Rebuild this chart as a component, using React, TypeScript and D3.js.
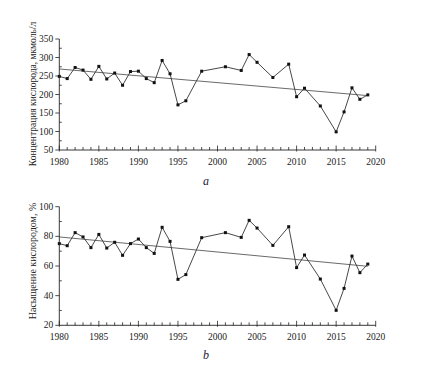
import React from "react";
import * as d3 from "d3";

const yearsA = [1980,1981,1982,1983,1984,1985,1986,1987,1988,1989,1990,1991,1992,1993,1994,1995,1996,1998,2001,2003,2004,2005,2007,2009,2010,2011,2013,2015,2016,2017,2018,2019];
const concA = [249,243,273,266,241,276,242,258,225,262,263,243,232,292,256,172,183,263,275,265,308,287,246,282,194,217,169,99,153,218,187,199];
const satB = [75.1,73.7,82.5,79.6,72.4,81.3,72.1,76.0,67.2,75.1,78.2,72.4,68.5,86.1,76.6,51.0,54.2,79.1,82.5,79.3,90.8,85.6,73.9,86.5,58.9,67.4,51.2,30.1,44.9,66.7,55.5,61.3];
const trendYears = [1980, 2019];
const trendA = [269, 197];
const trendB = [79.6, 59.8];
const ticksA = [50,100,150,200,250,300,350];
const ticksB = [20,40,60,80,100];
const xTicks = [1980,1985,1990,1995,2000,2005,2010,2015,2020];

const FONT = "Liberation Serif, DejaVu Serif, serif";

type PanelProps = {
  values: number[];
  trend: number[];
  yDomain: [number, number];
  yRange: [number, number];
  yTicks: number[];
  minorStep: number;
  title: string;
  titleY: number;
  titleSize: number;
  letter: string;
  letterY: number;
};

function Panel(p: PanelProps) {
  const x = d3.scaleLinear().domain([1980, 2020]).range([59.3, 375.7]);
  const y = d3.scaleLinear().domain(p.yDomain).range(p.yRange);
  const y0 = p.yRange[0];
  const line = d3.line<number>().x((_, i) => x(yearsA[i])).y(d => y(d));
  const trendLine = d3.line<number>().x((_, i) => x(trendYears[i])).y(d => y(d));
  const minorYears = d3.range(1980, 2021);
  const minorY = d3.range(p.yDomain[0], p.yDomain[1] + 0.001, p.minorStep);
  const ts = { fontFamily: FONT };
  return (
    <g>
      <path d={trendLine(p.trend) || ""} fill="none" stroke="#444" strokeWidth={0.8} />
      <path d={line(p.values) || ""} fill="none" stroke="#333" strokeWidth={0.9} />
      {p.values.map((v, i) => (
        <rect key={i} x={x(yearsA[i]) - 1.5} y={y(v) - 1.5} width={3} height={3} fill="#111" />
      ))}
      <line x1={x(1980)} x2={x(2020)} y1={y0} y2={y0} stroke="#222" strokeWidth={0.9} />
      <line x1={x(1980)} x2={x(1980)} y1={y0} y2={p.yRange[1]} stroke="#222" strokeWidth={0.9} />
      {minorYears.map(yr => (
        <line key={yr} x1={x(yr)} x2={x(yr)} y1={y0 + (yr % 5 === 0 ? 1.5 : 0)} y2={y0 - (yr % 5 === 0 ? 4.5 : 3)} stroke="#222" strokeWidth={0.8} />
      ))}
      {minorY.map(v => (
        <line key={v} x1={x(1980) - (p.yTicks.includes(v) ? 4 : 0)} x2={x(1980) + (p.yTicks.includes(v) ? 0 : 2.5)} y1={y(v)} y2={y(v)} stroke="#222" strokeWidth={0.8} />
      ))}
      {xTicks.map(t => (
        <text key={t} x={x(t)} y={y0 + 15} textAnchor="middle" fontSize={9.5} style={ts} fill="#222">{t}</text>
      ))}
      {p.yTicks.map(t => (
        <text key={t} x={x(1980) - 6} y={y(t) + 3} textAnchor="end" fontSize={9.5} style={ts} fill="#222">{t}</text>
      ))}
      <text transform={`translate(36,${p.titleY}) rotate(-90)`} textAnchor="middle" fontSize={p.titleSize} style={ts} fill="#222">{p.title}</text>
      <text x={206} y={p.letterY} textAnchor="middle" fontSize={12} fontStyle="italic" style={ts} fill="#1a1a3a">{p.letter}</text>
    </g>
  );
}

export default function App() {
  return (
    <svg width={440} height={369} style={{ position: "absolute", left: 0, top: 0, background: "#fff" }}>
      <rect width={440} height={369} fill="#fff" />
      <Panel values={concA} trend={trendA} yDomain={[50, 350]} yRange={[150, 39]} yTicks={ticksA} minorStep={25}
        title="Концентрация кислорода, мкмоль/л" titleY={94} titleSize={9.5} letter="a" letterY={185} />
      <Panel values={satB} trend={trendB} yDomain={[20, 100]} yRange={[325.3, 206.7]} yTicks={ticksB} minorStep={10}
        title="Насыщение кислородом, %" titleY={261} titleSize={10} letter="b" letterY={359} />
    </svg>
  );
}
